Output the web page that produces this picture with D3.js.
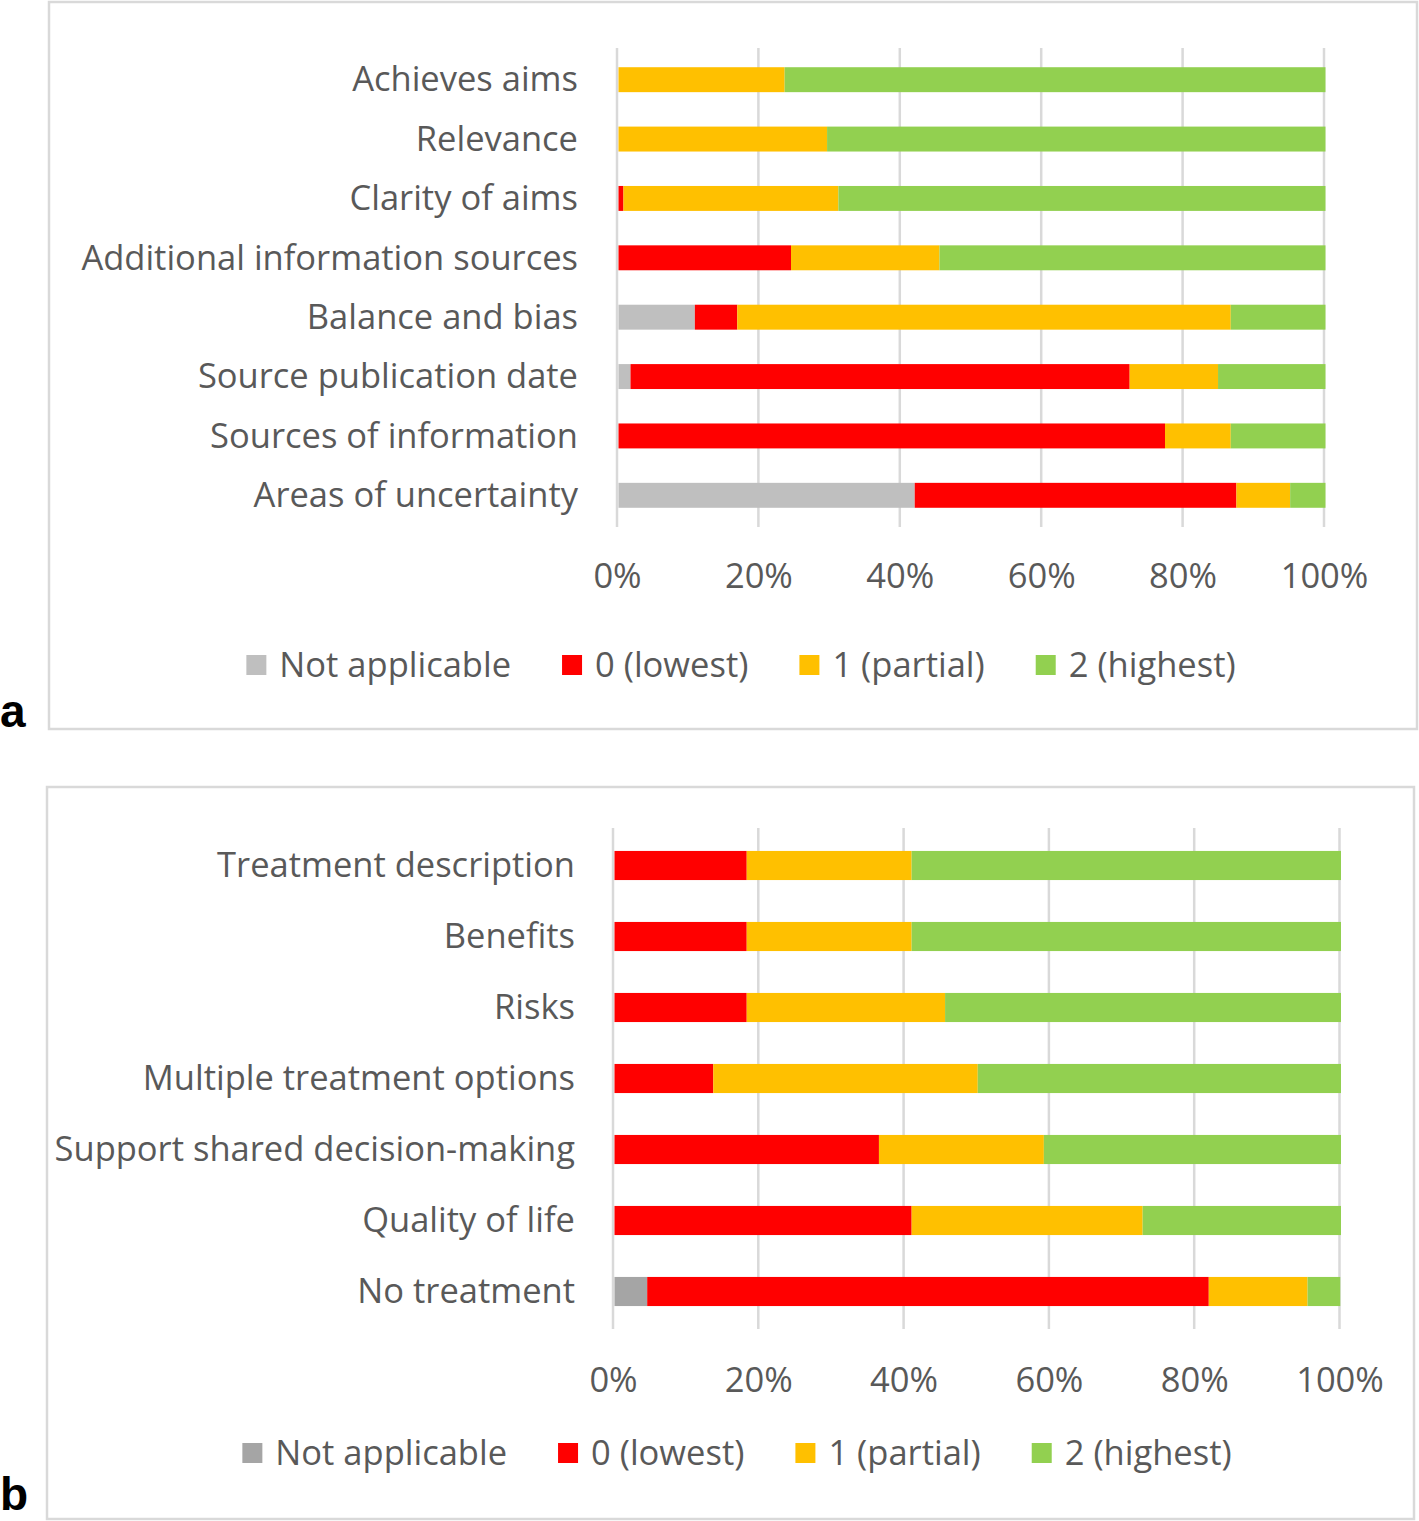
<!DOCTYPE html>
<html>
<head>
<meta charset="utf-8">
<script src="https://cdn.jsdelivr.net/npm/d3@7"></script>
<style>
  html, body { margin: 0; padding: 0; background: #fff; }
  svg { display: block; }
</style>
</head>
<body>
<script>
// ---------- data ----------
const seriesKeys = ["Not applicable", "0 (lowest)", "1 (partial)", "2 (highest)"];

const categoriesA = ["Achieves aims", "Relevance", "Clarity of aims", "Additional information sources",
  "Balance and bias", "Source publication date", "Sources of information", "Areas of uncertainty"];
const notApplicableA = [0, 0, 0, 0, 10.8, 1.7, 0, 41.9];
const lowestA        = [0, 0, 0.7, 24.4, 6.0, 70.6, 77.3, 45.5];
const partialA       = [23.5, 29.5, 30.4, 21.0, 69.8, 12.5, 9.3, 7.6];
const highestA       = [76.5, 70.5, 68.9, 54.6, 13.4, 15.2, 13.4, 5.0];

const categoriesB = ["Treatment description", "Benefits", "Risks", "Multiple treatment options",
  "Support shared decision-making", "Quality of life", "No treatment"];
const notApplicableB = [0, 0, 0, 0, 0, 0, 4.5];
const lowestB        = [18.2, 18.2, 18.2, 13.6, 36.4, 40.9, 77.3];
const partialB       = [22.7, 22.7, 27.3, 36.4, 22.7, 31.8, 13.6];
const highestB       = [59.1, 59.1, 54.5, 50.0, 40.9, 27.3, 4.5];

const tickValues = [0, 20, 40, 60, 80, 100];
const tickLabels = ["0%", "20%", "40%", "60%", "80%", "100%"];
const panelLetters = ["a", "b"];

// ---------- styles ----------
const FONT = "'Open Sans', Lato, sans-serif";
const TEXT = "#595959";
const GRID = "#d9d9d9";

const W = 1419, H = 1521;
const svg = d3.select("body").append("svg").attr("width", W).attr("height", H);

function buildRows(cats, na, lo, pa, hi) {
  return cats.map((c, i) => ({
    cat: c,
    "Not applicable": na[i], "0 (lowest)": lo[i], "1 (partial)": pa[i], "2 (highest)": hi[i]
  }));
}

function drawPanel(cfg) {
  const g = svg.append("g");
  // frame
  g.append("rect")
    .attr("x", cfg.frame[0]).attr("y", cfg.frame[1])
    .attr("width", cfg.frame[2] - cfg.frame[0]).attr("height", cfg.frame[3] - cfg.frame[1])
    .attr("fill", "#fff").attr("stroke", GRID).attr("stroke-width", 2.5);

  const x = d3.scaleLinear().domain([0, 100]).range(cfg.xRange);
  const y = d3.scaleBand().domain(cfg.cats).range(cfg.yRange).paddingInner(cfg.pad).paddingOuter(cfg.pad / 2);
  const color = d3.scaleOrdinal().domain(seriesKeys).range(cfg.colors);

  // gridlines
  g.append("g").selectAll("line").data(tickValues).join("line")
    .attr("x1", d => x(d)).attr("x2", d => x(d))
    .attr("y1", cfg.yRange[0] - 2).attr("y2", cfg.yRange[1] + 2)
    .attr("stroke", GRID).attr("stroke-width", 2.5);

  // bars
  const rows = buildRows(cfg.cats, cfg.na, cfg.lo, cfg.pa, cfg.hi);
  const stacked = d3.stack().keys(seriesKeys)(rows);
  g.append("g").selectAll("g").data(stacked).join("g")
    .attr("fill", d => color(d.key))
    .selectAll("rect").data(d => d).join("rect")
    .attr("x", d => x(d[0]) + 1.5)
    .attr("width", d => Math.max(0, x(d[1]) - x(d[0])))
    .attr("y", d => y(d.data.cat))
    .attr("height", y.bandwidth());

  // category labels (y axis)
  const yAxis = d3.axisLeft(y).tickSize(0).tickPadding(0);
  const ya = g.append("g").attr("transform", `translate(${cfg.labelRight},0)`).call(yAxis);
  ya.select(".domain").remove();
  ya.selectAll("text").attr("font-family", FONT).attr("font-size", cfg.fs)
    .attr("fill", TEXT).attr("dy", "0.34em");

  // x ticks
  const xAxis = d3.axisBottom(x).tickValues(tickValues).tickFormat((d, i) => tickLabels[i]).tickSize(0).tickPadding(0);
  const xa = g.append("g").attr("transform", `translate(0,${cfg.tickY})`).call(xAxis);
  xa.select(".domain").remove();
  xa.selectAll("text").attr("font-family", FONT).attr("font-size", cfg.fs)
    .attr("fill", TEXT).attr("dy", "0.34em");

  // legend
  const lg = g.append("g");
  const items = seriesKeys.map(k => {
    const it = lg.append("g");
    it.append("rect").attr("width", 20).attr("height", 20).attr("y", -10).attr("fill", color(k));
    const t = it.append("text").attr("x", 33).attr("dy", "0.34em")
      .attr("font-family", FONT).attr("font-size", cfg.fs).attr("fill", TEXT).text(k);
    return { it, w: 33 + t.node().getComputedTextLength() };
  });
  const gap = 51;
  const total = d3.sum(items, d => d.w) + gap * (items.length - 1);
  let cx = cfg.legendCenter - total / 2;
  items.forEach(d => { d.it.attr("transform", `translate(${cx},${cfg.legendY})`); cx += d.w + gap; });

  // panel letter
  svg.append("text").attr("x", 0).attr("y", cfg.letterY)
    .attr("font-family", "'Liberation Sans', Arial, sans-serif").attr("font-weight", "bold")
    .attr("font-size", 46).attr("fill", "#000").text(cfg.letter);
}

drawPanel({
  frame: [49, 2, 1417, 729],
  cats: categoriesA, na: notApplicableA, lo: lowestA, pa: partialA, hi: highestA,
  colors: ["#bfbfbf", "#ff0000", "#ffc000", "#92d050"],
  xRange: [617, 1324], yRange: [50, 525], pad: 0.58,
  labelRight: 578, tickY: 576, legendY: 665, legendCenter: 741, fs: 34.5,
  letter: panelLetters[0], letterY: 727
});

drawPanel({
  frame: [47, 787, 1414, 1519],
  cats: categoriesB, na: notApplicableB, lo: lowestB, pa: partialB, hi: highestB,
  colors: ["#a5a5a5", "#ff0000", "#ffc000", "#92d050"],
  xRange: [613, 1339.5], yRange: [830, 1327], pad: 0.59,
  labelRight: 575, tickY: 1380, legendY: 1453, legendCenter: 737, fs: 34.5,
  letter: panelLetters[1], letterY: 1510
});
</script>
</body>
</html>
